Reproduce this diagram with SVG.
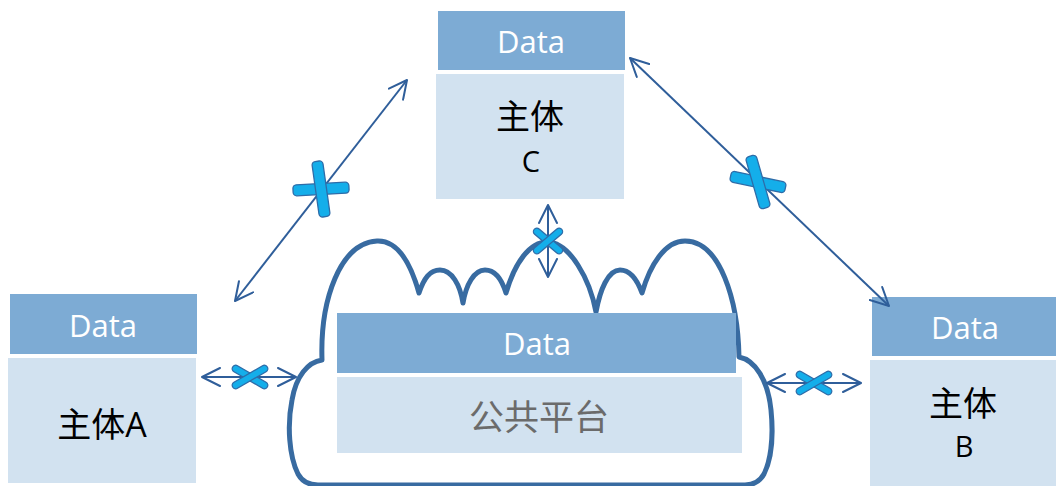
<svg xmlns="http://www.w3.org/2000/svg" width="1056" height="486" viewBox="0 0 1056 486">
<defs>
<style>
.hdr{fill:#7DABD4}
.body{fill:#D2E2F0}
.dt{font-family:"Open Sans","Liberation Sans",sans-serif;font-size:31px;fill:#fff;text-anchor:middle}
.lbl{font-family:"Open Sans","Noto Sans CJK SC",sans-serif;font-size:34px;fill:#000;text-anchor:middle}
.lt{font-family:"Open Sans","Liberation Sans",sans-serif;font-size:29px;fill:#000;text-anchor:middle}
.plat{font-family:"Noto Sans CJK SC",sans-serif;font-size:35px;fill:#6B6B6B;text-anchor:middle}
.con{stroke:#2F5E9A;stroke-width:2;fill:none;marker-start:url(#ah);marker-end:url(#ah)}
.x{fill:#14AEEA;stroke:#2E6CA8;stroke-width:1.3}
.cloud{fill:#fff;stroke:#386BA1;stroke-width:5;stroke-linejoin:round}
</style>
<marker id="ah" markerUnits="userSpaceOnUse" viewBox="0 0 20 20" refX="19" refY="10" markerWidth="20" markerHeight="20" orient="auto-start-reverse">
<path d="M1,1 L19,10 L1,19" fill="none" stroke="#2F5E9A" stroke-width="2" stroke-linecap="round" stroke-linejoin="round"/>
</marker>
</defs>

<g id="platform">
<path class="cloud" d="M318 485 Q304 485 298 474 C289 456 287 425 292 400 C296 376 308 362 322 360 C320 300 340 243 377 241 C400 240 412 268 419 293 C424 278 430 270 440 270 C452 270 460 285 463 303 C466 285 474 270 485 270 C495 270 502 280 506 293 C515 262 530 242 547 242 C570 242 590 280 596 312 C600 290 608 270 620 270 C632 270 638 282 642 293 C650 265 665 241 685 241 C720 241 738 300 739 357 C755 360 768 380 771 410 C774 440 770 462 764 474 Q758 485 745 485 Z"/>
<rect class="hdr" x="337" y="313" width="399" height="60"/>
<rect class="body" x="337" y="377" width="405" height="76"/>
<text class="dt" x="537" y="355">Data</text>
<text class="plat" x="539" y="430">公共平台</text>
</g>

<g id="nodeC">
<rect class="hdr" x="438" y="11" width="187" height="59"/>
<rect class="body" x="436" y="74" width="188" height="125"/>
<text class="dt" x="531" y="53">Data</text>
<text class="lbl" x="530" y="129">主体</text>
<text class="lt" x="531" y="172">C</text>
</g>

<g id="nodeA">
<rect class="hdr" x="10" y="294" width="187" height="60"/>
<rect class="body" x="8" y="358" width="188" height="125"/>
<text class="dt" x="103" y="337">Data</text>
<text class="lbl" x="102" y="437">主体A</text>
</g>

<g id="nodeB">
<rect class="hdr" x="872" y="297" width="184" height="59"/>
<rect class="body" x="870" y="360" width="186" height="126"/>
<text class="dt" x="965" y="339">Data</text>
<text class="lbl" x="963" y="416">主体</text>
<text class="lt" x="964" y="457">B</text>
</g>

<g id="connectors">
<line class="con" x1="235" y1="301" x2="407" y2="80"/>
<line class="con" x1="630" y1="58" x2="889" y2="306"/>
<line class="con" x1="548" y1="205" x2="548" y2="277"/>
<line class="con" x1="202" y1="377" x2="296" y2="377"/>
<line class="con" x1="767" y1="383" x2="861" y2="383"/>
<g transform="translate(321,189)">
<rect class="x" x="-28" y="-5.5" width="56" height="11" rx="3.5" transform="rotate(-3)"/>
<rect class="x" x="-5.5" y="-28" width="11" height="56" rx="3.5" transform="rotate(-8)"/>
</g>
<g transform="translate(758,182)">
<rect class="x" x="-28" y="-5.5" width="56" height="11" rx="3.5" transform="rotate(12)"/>
<rect class="x" x="-5.5" y="-27" width="11" height="54" rx="3.5" transform="rotate(-16)"/>
</g>
<g transform="translate(548,241)">
<rect class="x" x="-18" y="-3.5" width="36" height="7" rx="3.5" transform="rotate(40)"/>
<rect class="x" x="-18" y="-3.5" width="36" height="7" rx="3.5" transform="rotate(-40)"/>
</g>
<g transform="translate(250,377)">
<rect class="x" x="-20" y="-3.5" width="40" height="7" rx="3.5" transform="rotate(30)"/>
<rect class="x" x="-20" y="-3.5" width="40" height="7" rx="3.5" transform="rotate(-30)"/>
</g>
<g transform="translate(814,383)">
<rect class="x" x="-20" y="-3.5" width="40" height="7" rx="3.5" transform="rotate(30)"/>
<rect class="x" x="-20" y="-3.5" width="40" height="7" rx="3.5" transform="rotate(-30)"/>
</g>
</g>
</svg>
